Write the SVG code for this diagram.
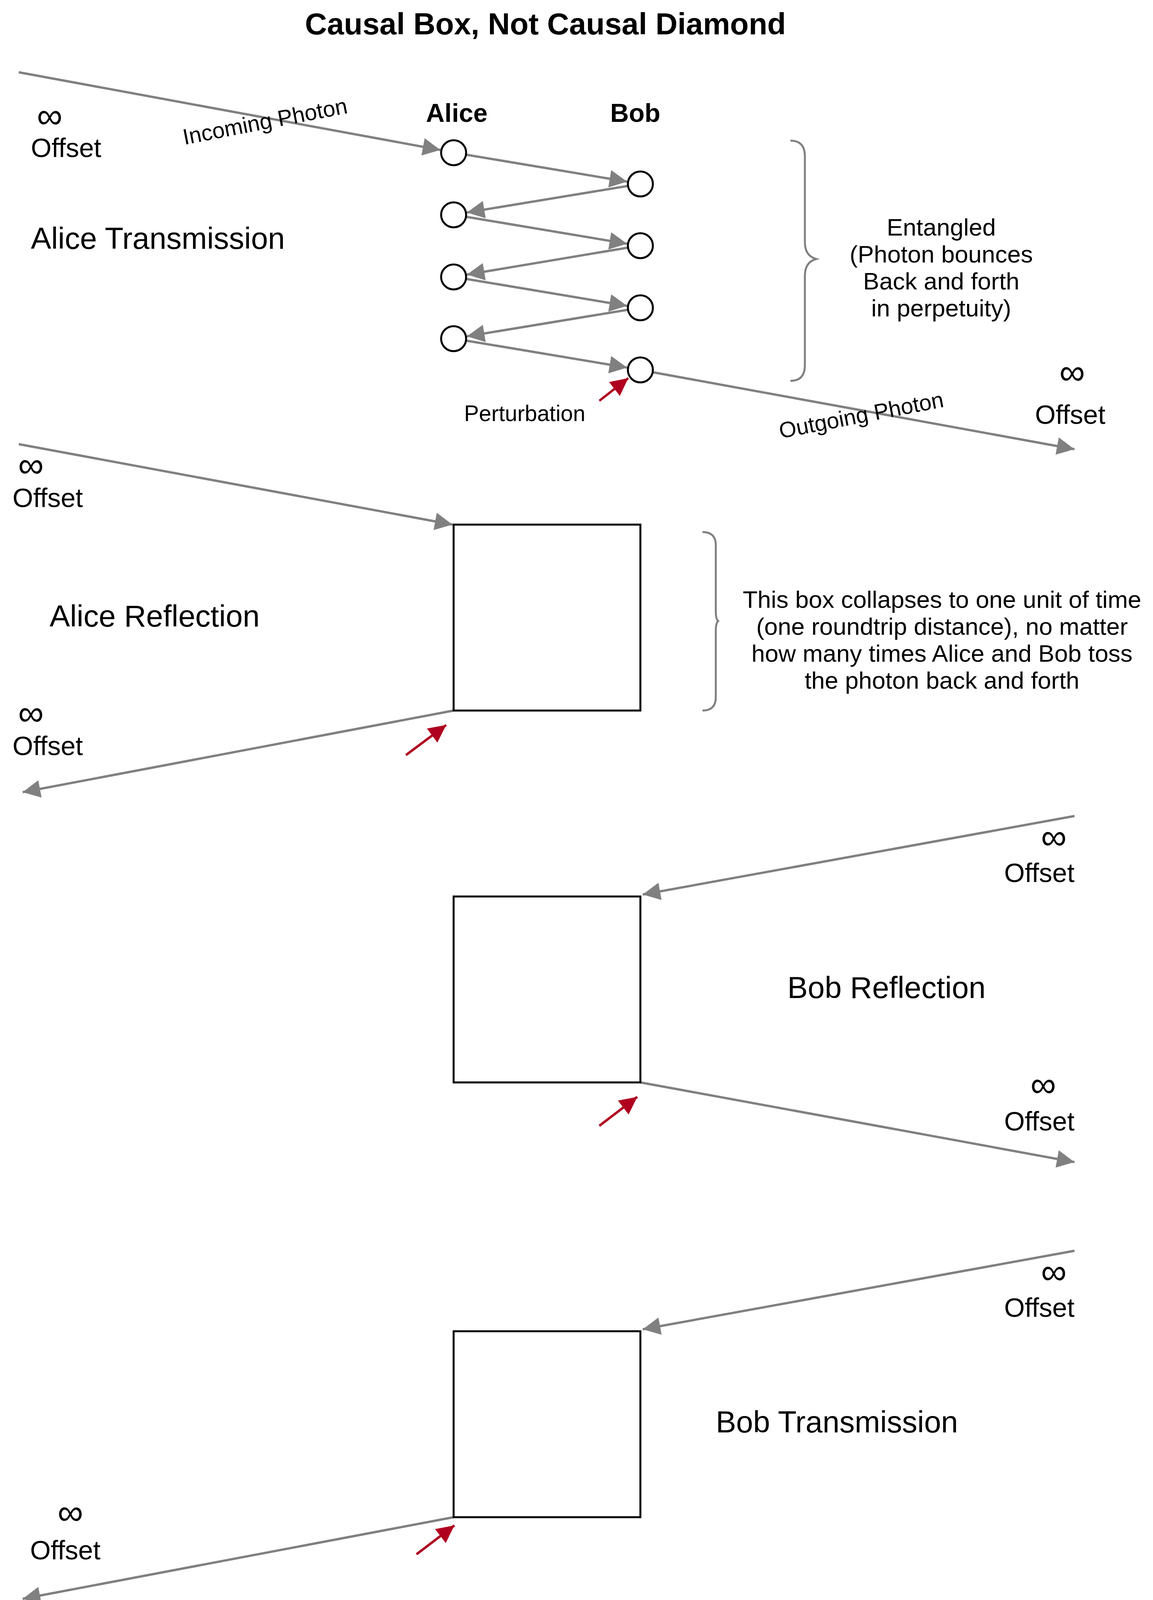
<svg xmlns="http://www.w3.org/2000/svg" width="2951" height="4135" viewBox="0 0 2951 4135">
<style>
text{font-family:"Liberation Sans",Arial,sans-serif;fill:#000}
.t{font-size:68px}
.big{font-size:78px}
.sm{font-size:57px}
.md{font-size:62px}
.inf{font-size:92px;font-family:"DejaVu Sans",sans-serif;font-weight:200}
.w{stroke:#808080;stroke-width:6;fill:none;marker-end:url(#ag)}
.r{stroke:#b0001f;stroke-width:6;fill:none;marker-end:url(#ar)}
.c{fill:#fff;stroke:#000;stroke-width:5}
.b{fill:#fff;stroke:#000;stroke-width:5}
.br{fill:none;stroke:#808080;stroke-width:5}
</style>
<defs>
<marker id="ag" viewBox="0 0 10 10" refX="10" refY="5" markerWidth="9" markerHeight="7.5" orient="auto" markerUnits="strokeWidth"><path d="M0,0 L10,5 L0,10 z" fill="#808080"/></marker>
<marker id="ar" viewBox="0 0 10 10" refX="10" refY="5" markerWidth="9" markerHeight="7.5" orient="auto" markerUnits="strokeWidth"><path d="M0,0 L10,5 L0,10 z" fill="#b0001f"/></marker>
</defs>
<rect width="2951" height="4135" fill="#fff"/>
<text x="1396" y="88" font-size="78" font-weight="bold" text-anchor="middle">Causal Box, Not Causal Diamond</text>

<g id="connectors">
<line class="w" x1="48" y1="185" x2="1127" y2="384"/>
<line class="w" x1="1193" y1="396" x2="1605" y2="465"/>
<line class="w" x1="1607" y1="476" x2="1195" y2="544"/>
<line class="w" x1="1193" y1="555" x2="1605" y2="624"/>
<line class="w" x1="1607" y1="634" x2="1195" y2="703"/>
<line class="w" x1="1193" y1="714" x2="1605" y2="783"/>
<line class="w" x1="1607" y1="793" x2="1195" y2="861"/>
<line class="w" x1="1193" y1="872" x2="1605" y2="941"/>
<line class="w" x1="1671" y1="953" x2="2750" y2="1150"/>
<line class="r" x1="1534" y1="1026" x2="1608" y2="968"/>

<line class="w" x1="48" y1="1137" x2="1158" y2="1343"/>
<line class="w" x1="1161" y1="1819" x2="58" y2="2028"/>
<line class="r" x1="1039" y1="1933" x2="1142" y2="1856"/>

<line class="w" x1="2750" y1="2089" x2="1645" y2="2290"/>
<line class="w" x1="1639" y1="2771" x2="2750" y2="2975"/>
<line class="r" x1="1534" y1="2882" x2="1631" y2="2808"/>

<line class="w" x1="2750" y1="3202" x2="1645" y2="3403"/>
<line class="w" x1="1161" y1="3884" x2="58" y2="4093"/>
<line class="r" x1="1066" y1="3979" x2="1163" y2="3905"/>
</g>

<g id="section1">
<text x="1169" y="312" font-size="66" font-weight="bold" text-anchor="middle">Alice</text>
<text x="1626" y="312" font-size="66" font-weight="bold" text-anchor="middle">Bob</text>
<circle class="c" cx="1161" cy="391" r="32"/>
<circle class="c" cx="1161" cy="550" r="32"/>
<circle class="c" cx="1161" cy="709" r="32"/>
<circle class="c" cx="1161" cy="867" r="32"/>
<circle class="c" cx="1639" cy="471" r="32"/>
<circle class="c" cx="1639" cy="629" r="32"/>
<circle class="c" cx="1639" cy="788" r="32"/>
<circle class="c" cx="1639" cy="947" r="32"/>
<text class="inf" x="127" y="328" text-anchor="middle">∞</text>
<text class="t" x="79" y="402">Offset</text>
<text class="big" x="79" y="637">Alice Transmission</text>
<text class="sm" transform="translate(682,330) rotate(-11)" text-anchor="middle">Incoming Photon</text>
<path class="br" d="M2023,360 Q2060,360 2060,400 L2060,620 Q2060,655 2089,663 Q2060,671 2060,706 L2060,935 Q2060,975 2023,975"/>
<text class="md" text-anchor="middle" x="2409" y="603">Entangled</text>
<text class="md" text-anchor="middle" x="2409" y="672">(Photon bounces</text>
<text class="md" text-anchor="middle" x="2409" y="741">Back and forth</text>
<text class="md" text-anchor="middle" x="2409" y="810">in perpetuity)</text>
<text class="sm" x="1343" y="1078" text-anchor="middle">Perturbation</text>
<text class="sm" transform="translate(2208,1082) rotate(-11)" text-anchor="middle">Outgoing Photon</text>
<text class="inf" x="2744" y="984" text-anchor="middle">∞</text>
<text class="t" x="2739" y="1085" text-anchor="middle">Offset</text>
</g>

<g id="section2">
<rect class="b" x="1161" y="1343" width="478" height="476"/>
<text class="inf" x="79" y="1222" text-anchor="middle">∞</text>
<text class="t" x="32" y="1298">Offset</text>
<text class="big" x="127" y="1604">Alice Reflection</text>
<text class="inf" x="79" y="1857" text-anchor="middle">∞</text>
<text class="t" x="32" y="1933">Offset</text>
<path class="br" d="M1798,1362 Q1832,1362 1832,1395 L1832,1565 Q1832,1585 1838,1590 Q1832,1595 1832,1615 L1832,1785 Q1832,1819 1798,1819"/>
<text class="md" text-anchor="middle" x="2411" y="1556">This box collapses to one unit of time</text>
<text class="md" text-anchor="middle" x="2411" y="1625">(one roundtrip distance), no matter</text>
<text class="md" text-anchor="middle" x="2411" y="1694">how many times Alice and Bob toss</text>
<text class="md" text-anchor="middle" x="2411" y="1763">the photon back and forth</text>
</g>

<g id="section3">
<rect class="b" x="1161" y="2295" width="478" height="476"/>
<text class="inf" x="2697" y="2174" text-anchor="middle">∞</text>
<text class="t" x="2660" y="2258" text-anchor="middle">Offset</text>
<text class="big" x="2269" y="2555" text-anchor="middle">Bob Reflection</text>
<text class="inf" x="2670" y="2808" text-anchor="middle">∞</text>
<text class="t" x="2660" y="2894" text-anchor="middle">Offset</text>
</g>

<g id="section4">
<rect class="b" x="1161" y="3408" width="478" height="476"/>
<text class="inf" x="2697" y="3287" text-anchor="middle">∞</text>
<text class="t" x="2660" y="3371" text-anchor="middle">Offset</text>
<text class="big" x="2142" y="3667" text-anchor="middle">Bob Transmission</text>
<text class="inf" x="180" y="3903" text-anchor="middle">∞</text>
<text class="t" x="167" y="3992" text-anchor="middle">Offset</text>
</g>
</svg>
